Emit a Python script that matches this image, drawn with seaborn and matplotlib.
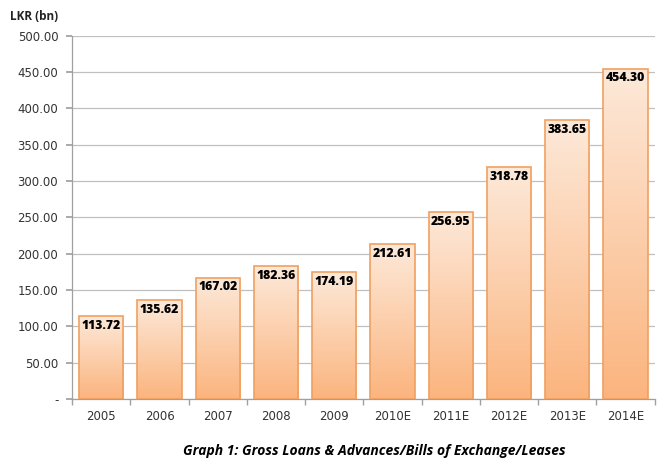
import numpy as np
import pandas as pd
import seaborn as sns
import matplotlib.pyplot as plt
from matplotlib.colors import LinearSegmentedColormap

years = ['2005', '2006', '2007', '2008', '2009', '2010E', '2011E', '2012E', '2013E', '2014E']
loans = [113.72, 135.62, 167.02, 182.36, 174.19, 212.61, 256.95, 318.78, 383.65, 454.30]
yticks = [0, 50, 100, 150, 200, 250, 300, 350, 400, 450, 500]
ytick_labels = ['-'] + ['%.2f' % v for v in yticks[1:]]

df = pd.DataFrame({'Year': years, 'Loans': loans})

sns.set_theme(style='white')
plt.rcParams['font.family'] = ['DejaVu Sans']

fig = plt.figure(figsize=(6.62, 4.72), dpi=100)
ax = fig.add_axes([0.109, 0.155, 0.880, 0.769])

sns.barplot(data=df, x='Year', y='Loans', ax=ax, width=0.76,
            color='#fcc9a0', edgecolor='#f0a060', linewidth=1.2, zorder=3)

# gradient fill, light at top, deeper orange at bottom
cmap = LinearSegmentedColormap.from_list('peach', ['#fbb47e', '#fde9d9'])
grad = np.linspace(0, 1, 256).reshape(-1, 1)
for bar in ax.patches:
    x0, y0 = bar.get_x(), bar.get_y()
    w, h = bar.get_width(), bar.get_height()
    im = ax.imshow(grad, cmap=cmap, aspect='auto', origin='lower',
                   extent=[x0, x0 + w, y0, y0 + h], zorder=3.5)
    im.set_clip_path(bar)
    bar.set_facecolor('none')
    bar.set_zorder(4)

for i, v in enumerate(loans):
    ax.text(i, v - 13, '%.2f' % v, ha='center', va='center', fontsize=8.8,
            fontweight=800, family='Open Sans', color='black', zorder=5)

ax.set_xlim(-0.5, len(years) - 0.5)
ax.set_ylim(0, 500)
ax.set_yticks(yticks)
ax.set_yticklabels(ytick_labels, fontsize=8.5, color='#333333')
ax.yaxis.grid(True, color='#c0c0c0', linewidth=0.9, zorder=0)
ax.set_axisbelow(True)

ax.set_xticks(range(len(years)))
ax.set_xticklabels(years, fontsize=8.5, color='#333333')
ax.tick_params(axis='x', length=0, pad=8)
ax.set_xticks(np.arange(-0.5, len(years), 1), minor=True)
ax.tick_params(axis='x', which='minor', length=4, color='#a0a0a0', direction='out', bottom=True)
ax.tick_params(axis='y', length=4, color='#a0a0a0', direction='out', left=True, pad=6)

for s in ['top', 'right']:
    ax.spines[s].set_visible(False)
for s in ['left', 'bottom']:
    ax.spines[s].set_color('#a0a0a0')
    ax.spines[s].set_linewidth(0.9)

ax.set_xlabel('')
ax.set_ylabel('')

fig.text(0.015, 0.966, 'LKR (bn)', fontsize=8.5, fontweight='bold', family='Open Sans',
         ha='left', va='center', color='#222222')
fig.text(0.566, 0.044, 'Graph 1: Gross Loans & Advances/Bills of Exchange/Leases',
         fontsize=10, fontweight='bold', fontstyle='italic', family='Open Sans',
         ha='center', va='center', color='black')

fig.savefig('out.png', dpi=100)
